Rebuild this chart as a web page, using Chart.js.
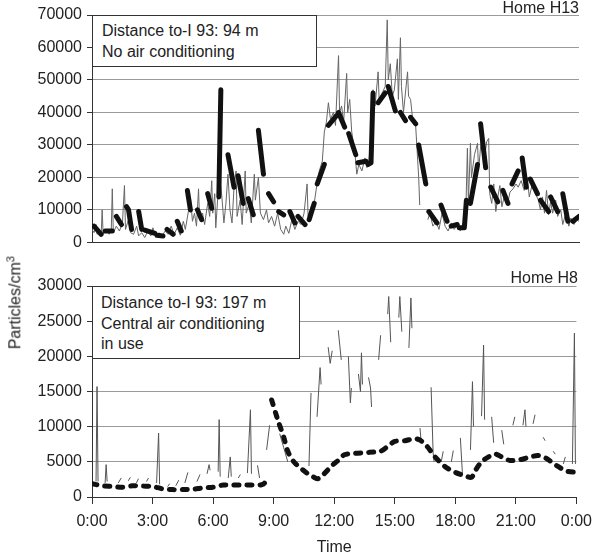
<!DOCTYPE html>
<html>
<head>
<meta charset="utf-8">
<script src="https://cdn.jsdelivr.net/npm/chart.js@4.4.1/dist/chart.umd.min.js"></script>
<style>
  body { margin: 0; background: #fff; font-family: "Liberation Sans", Arial, sans-serif; color: #222; }
  #wrap { position: relative; width: 600px; height: 556px; overflow: hidden; }
  .panel { position: absolute; left: 0; width: 600px; }
  .home { position: absolute; font-size: 16px; line-height: 16px; white-space: nowrap; }
  .note { position: absolute; background: #fff; border: 1px solid #333; font-size: 16px; line-height: 20.5px; box-sizing: border-box; white-space: nowrap; }
  #ytitle { position: absolute; left: -87px; top: 290px; width: 200px; text-align: center; font-size: 16px; line-height: 20px; transform: rotate(-90deg); }
</style>
</head>
<body>
<div id="wrap">
  <div class="panel" style="top:0;height:257px"><canvas id="topChart"></canvas></div>
  <div class="panel" style="top:257px;height:299px"><canvas id="bottomChart"></canvas></div>
  <div class="home" style="top:0px;right:21px">Home H13</div>
  <div class="home" style="top:270px;right:22px">Home H8</div>
  <div class="note" style="left:92px;top:15px;width:225px;height:52px;padding:5px 0 0 9px">Distance to-I 93: 94 m<br>No air conditioning</div>
  <div class="note" style="left:92px;top:286px;width:208px;height:73px;padding:6px 0 0 8px">Distance to-I 93: 197 m<br>Central air conditioning<br>in use</div>
  <div id="ytitle">Particles/cm<sup style="font-size:11px">3</sup></div>
</div>
<script>
// Home H13 - indoor (thick), segments separated by null
const h13InTime = [0.1, 0.45, 0.55, 0.65, 1.0, 1.1, 1.2, 1.45, 1.6, 1.7, 1.8, 1.95, 2.1, 2.3, 2.45, 2.55, 2.6, 3.1, 3.15,
  3.2, 3.5, 3.6, 3.7, 4.0, 4.1, 4.2, 4.4, 4.55, 4.7, 4.85, 5.0, 5.2, 5.4, 5.55, 5.7, 5.9, 6.05, 6.25, 6.35, 6.5,
  6.7, 7.0, 7.1, 7.2, 7.45, 7.6, 7.7, 7.95, 8.1, 8.2, 8.45, 8.6, 8.7, 8.95, 9.1, 9.2, 9.45, 9.6, 9.75, 10.0, 10.08,
  10.15, 10.5, 10.6, 10.7, 10.95, 11.02, 11.1, 11.45, 11.55, 11.65, 12.05, 12.1, 12.15, 12.45, 12.55, 12.65, 13.0, 13.05,
  13.1, 13.5, 13.55, 13.6, 13.75, 13.85, 14.0, 14.1, 14.45, 14.52, 14.6, 14.95, 15.1, 15.2, 15.45, 15.6, 15.7, 15.95, 16.02,
  16.1, 16.45, 16.52, 16.6, 17.0, 17.1, 17.2, 17.5, 17.6, 17.7, 18.0, 18.05, 18.1, 18.35, 18.45, 18.55, 18.65, 19.0, 19.08,
  19.15, 19.4, 19.52, 19.65, 20.0, 20.12, 20.25, 20.5, 20.6, 20.7, 21.0, 21.1, 21.2, 21.4, 21.5, 21.6, 21.95, 22.02,
  22.1, 22.5, 22.55, 22.6, 22.95, 23.08, 23.2, 23.45, 23.58, 23.7, 24.0];
const h13In = [5000, 2500, null, 3500, 3500, null, 8000, 5500, null, 11000, 10000, 4000, null, 9500, 4000, null, 3800, 2800, null,
  2200, 2000, null, 4000, 2500, null, 6500, 3500, null, 16000, 10000, null, 10000, 7000, null, 15000, 10500, null, 14000, 47000, null,
  27000, 17000, null, 20500, 12000, null, 13500, 8500, null, 34500, 21000, null, 15000, 12500, null, 9500, 8500, null, 9500, 6000, null,
  8000, 5500, null, 7000, 12000, null, 18000, 24000, null, 36000, 39000, null, 40000, 35500, null, 33500, 27000, null,
  24500, 25000, null, 24000, 24500, 46000, null, 43000, 46000, null, 48000, 40500, null, 40000, 37500, null, 38500, 36500, null,
  30000, 18000, null, 9500, 6000, null, 11500, 6500, null, 5000, 5500, null, 4500, 4500, 13000, null, 12000, 24000, null,
  36500, 23000, null, 17000, 12500, null, 16000, 12000, null, 18000, 22000, null, 26000, 17000, null, 19500, 15000, null,
  13000, 9500, null, 14000, 9500, null, 15000, 6500, null, 6500, 8000];

// Home H13 - outdoor (thin)
const h13OutTime = [0.0, 0.1, 0.2, 0.25, 0.35, 0.45, 0.5, 0.55, 0.7, 0.85, 0.95, 1.0, 1.05, 1.2, 1.35, 1.5, 1.6, 1.65, 1.8, 1.9,
  2.05, 2.2, 2.3, 2.45, 2.6, 2.75, 2.9, 3.0, 3.15, 3.3, 3.45, 3.6, 3.75, 3.9, 4.05, 4.2, 4.35, 4.5, 4.6, 4.75, 4.85, 4.95,
  5.05, 5.15, 5.25, 5.3, 5.45, 5.55, 5.7, 5.8, 5.9, 5.95, 6.05, 6.1, 6.2, 6.3, 6.4, 6.5, 6.6, 6.7, 6.8, 6.9, 7.0, 7.1, 7.15,
  7.3, 7.4, 7.55, 7.6, 7.75, 7.85, 8.0, 8.05, 8.2, 8.3, 8.45, 8.6, 8.7, 8.85, 9.0, 9.15, 9.3, 9.45, 9.55, 9.7, 9.85, 10.0,
  10.15, 10.3, 10.45, 10.6, 10.65, 10.8, 10.95, 11.1, 11.2, 11.35, 11.45, 11.55, 11.65, 11.75, 11.9, 12.0, 12.15, 12.2, 12.3,
  12.4, 12.55, 12.6, 12.7, 12.8, 12.95, 13.05, 13.15, 13.3, 13.45, 13.55, 13.65, 13.75, 13.85, 13.95, 14.1, 14.15, 14.3,
  14.45, 14.55, 14.6, 14.7, 14.8, 14.9, 15.05, 15.1, 15.2, 15.25, 15.35, 15.55, 15.6, 15.7, 15.8, 15.95, 16.1, 16.15, 16.3,
  16.55, 16.65, 16.8, 16.95, 17.1, 17.25, 17.4, 17.55, 17.7, 17.85, 18.0, 18.15, 18.3, 18.4, 18.5, 18.55, 18.65, 18.7, 18.85,
  19.0, 19.05, 19.2, 19.3, 19.45, 19.55, 19.6, 19.7, 19.8, 19.9, 20.0, 20.1, 20.2, 20.35, 20.5, 20.6, 20.75, 20.9, 21.0,
  21.15, 21.3, 21.45, 21.55, 21.7, 21.85, 22.0, 22.1, 22.2, 22.3, 22.4, 22.5, 22.6, 22.7, 22.85, 22.95, 23.1, 23.2, 23.35,
  23.5, 23.6, 23.75, 23.9, 24.0];
const h13Out = [4000, 3000, 5500, 2500, 3000, 2000, 10000, 2500, 3500, 2500, 4000, 16500, 3000, 5000, 3500, 6000, 17500, 4000, 7000, 3000,
  2500, 5000, 2000, 3000, 1500, 3500, 2000, 4500, 1500, 3000, 1800, 3500, 2500, 5000, 2500, 4500, 2200, 6500, 4000, 9500, 14000, 6500,
  9000, 5000, 16500, 7000, 9000, 5500, 12000, 8000, 19000, 9000, 15000, 4500, 14000, 20000, 14000, 6000, 12000, 21000, 10000, 6000, 17000, 22000, 8000,
  13000, 5500, 22000, 9000, 12000, 6000, 21000, 13000, 20000, 9000, 7000, 10000, 6000, 8000, 5000, 9000, 4000, 2500, 5000, 2800, 7000, 4000,
  6500, 5500, 9000, 18000, 8000, 11000, 12000, 18500, 22000, 25000, 34000, 37000, 43000, 38000, 40000, 36000, 57500, 40000, 42000,
  37000, 52000, 40000, 44000, 34000, 28000, 21000, 24000, 22000, 26000, 23000, 25000, 33000, 47000, 42000, 52500, 44000, 46000,
  48000, 68500, 50000, 55000, 45000, 47000, 56500, 44000, 63000, 48000, 40000, 52500, 45000, 44000, 38000, 36000, 20000, 11500, null,
  7000, 9000, 5000, 6500, 4000, 9000, 5000, 3500, 6000, 4000, 5500, 3500, 6000, 4000, 29000, 12000, 30500, 20000, 27000,
  30500, 22000, 33000, 24000, 31000, 32000, 15000, 12000, 18000, 9500, 14000, 17500, 11000, 15000, 12500, 15500, 16500, 18000, 17000,
  19000, 16000, 20000, 14000, 18000, 15000, 13000, 10000, 14000, 9000, 16000, 8500, 12500, 9000, 13000, 8000, 10000, 5500, 9000,
  5000, 7500, 5500, 7000, 6500];

// Home H8 - indoor (thick dashed)
const h8InTime = [0, 0.5, 1, 1.5, 2, 2.5, 3, 3.5, 4, 4.5, 5, 5.5, 6, 6.5, 7, 7.5, 8, 8.4, 8.55, 8.6, 8.75, 8.9, 9.2, 9.5, 9.7,
  10.0, 10.3, 10.7, 11.0, 11.2, 11.5, 11.9, 12.2, 12.5, 13, 13.5, 14, 14.3, 14.7, 15, 15.5, 16, 16.3, 16.6, 17, 17.5, 18,
  18.5, 18.8, 19.0, 19.3, 19.7, 20, 20.3, 20.7, 21.2, 21.6, 22.1, 22.5, 23, 23.5, 24];
const h8In = [1900, 1600, 1500, 1400, 1600, 1550, 1500, 1150, 1050, 1050, 1100, 1300, 1400, 1700, 1700, 1700, 1700, 1750, 2000, 2800, null, 13800, 11000, 8500, 6500,
  5000, 4200, 3300, 2800, 2600, 3300, 4500, 5200, 6000, 6200, 6300, 6400, 6500, 7300, 7900, 8000, 8300, 8000, 7200, 5700, 4300, 3500,
  3000, 2800, 3800, 5000, 5800, 6100, 5700, 5200, 5300, 5600, 5900, 5500, 4500, 3700, 3500];

// Home H8 - outdoor (thin), fragments separated by null
const h8OutTime = [0.2, 0.25, 0.3, 0.4, 0.65, 0.7, 0.75, 0.85, 1.3, 1.45, 1.55, 1.8, 1.9, 2.0, 2.2, 2.3, 2.4, 2.7, 2.8, 2.9,
  3.2, 3.3, 3.35, 3.45, 3.75, 3.85, 3.95, 4.15, 4.3, 4.4, 4.6, 4.75, 4.85, 5.2, 5.35, 5.45, 5.7, 5.8, 5.85, 5.95,
  6.25, 6.3, 6.35, 6.45, 6.75, 6.85, 6.9, 7.0, 7.25, 7.35, 7.45, 7.7, 7.85, 7.9, 8.0, 8.2, 8.3, 8.4, 8.65, 8.8, 8.9,
  9.3, 9.5, 9.7, 9.8, 10.75, 10.85, 10.95, 11.15, 11.3, 11.35, 11.45, 11.7, 11.8, 11.9, 12.0, 12.2, 12.35, 12.45,
  12.7, 12.8, 12.85, 12.95, 13.2, 13.3, 13.35, 13.4, 13.5, 13.7, 13.8, 13.85, 13.95, 14.2, 14.3, 14.4, 14.65, 14.7, 14.8, 14.9,
  15.2, 15.25, 15.35, 15.4, 15.7, 15.8, 15.85, 15.95, 16.25, 16.3, 16.4, 16.8, 16.9, 16.95, 17.05, 17.3, 17.4, 17.5,
  17.8, 17.9, 18.0, 18.25, 18.35, 18.45, 18.75, 18.85, 18.9, 19.0, 19.3, 19.4, 19.45, 19.55, 19.8, 19.9, 20.0,
  20.3, 20.4, 20.5, 20.85, 20.95, 21.05, 21.35, 21.45, 21.5, 21.6, 21.85, 21.95, 22.05, 22.35, 22.45, 22.55,
  22.85, 22.95, 23.05, 23.35, 23.45, 23.55, 23.8, 23.9, 23.95];
const h8Out = [2200, 15700, 2200, null, 2000, 4600, 2200, null, 2000, 2700, null, 2300, 2800, null, 2000, 2600, null, 2200, 2700, null,
  2000, 9100, 1800, null, 1500, 1900, null, 1600, 2400, null, 2000, 3500, null, 2200, 3200, null, 3300, 4600, 3800, null,
  3600, 11000, 2900, null, 2700, 5700, 2900, null, 2700, 3200, null, 3400, 12400, 3300, null, 4500, 2700, null, 6700, 10200, null,
  9000, 7000, 5000, null, 4400, 14800, null, 11400, 18400, 16000, null, 21300, 19000, 20800, null, 23700, 19500, null,
  20000, 13400, 15500, null, 17500, 15000, 20500, 16000, null, 17000, 15500, 12800, null, 19500, 23000, null, 26000, 28500, 22000, null,
  25500, 28500, 23500, null, 21200, 28300, 24000, null, 9800, 8100, null, 15600, 6300, 5000, null, 5000, 6500, null,
  5000, 6600, null, 8400, 3400, null, 6700, 16400, 10000, null, 11500, 21600, 11000, null, 11400, 7700, null,
  9500, 7500, null, 10200, 11400, null, 10200, 12400, 10000, null, 10400, 11700, null, 8500, 8000, null,
  6500, 6100, null, 4700, 5700, null, 4700, 23300, 4700];

const hourTicks = [0, 3, 6, 9, 12, 15, 18, 21, 24];

const fontFamily = '"Liberation Sans", Arial, sans-serif';
const gridGray = '#9a9a9a';
const axisDark = '#333';

function points(times, values) {
    return times.map((t, i) => ({ x: t, y: values[i] }));
}

function yAxis(max, step) {
    return {
        min: 0,
        max: max,
        afterFit: function (axis) { axis.width = 92; },
        ticks: {
            stepSize: step,
            padding: 5,
            color: '#222',
            font: { family: fontFamily, size: 16 },
            callback: v => String(v)
        },
        grid: { color: gridGray, lineWidth: 1, tickLength: 5, tickColor: axisDark },
        border: { color: axisDark, width: 1 }
    };
}

Chart.defaults.animation = false;
Chart.defaults.font.family = fontFamily;

new Chart(document.getElementById('topChart'), {
    type: 'line',
    data: {
        datasets: [{
            label: 'Indoor',
            data: points(h13InTime, h13In),
            borderColor: '#111',
            borderWidth: 5,
            borderCapStyle: 'round',
            borderJoinStyle: 'round',
            pointRadius: 0,
            spanGaps: false
        }, {
            label: 'Outdoor',
            data: points(h13OutTime, h13Out),
            borderColor: '#666',
            borderWidth: 1,
            pointRadius: 0,
            spanGaps: false
        }]
    },
    options: {
        responsive: true,
        maintainAspectRatio: false,
        layout: { padding: { top: 15, right: 21, bottom: 0, left: 0 } },
        plugins: { legend: { display: false }, tooltip: { enabled: false } },
        scales: {
            x: {
                type: 'linear',
                min: 0,
                max: 24,
                afterFit: function (axis) { axis.height = 0; },
                ticks: { display: false },
                grid: { display: false },
                border: { color: axisDark, width: 1 }
            },
            y: yAxis(70000, 10000)
        }
    }
});

new Chart(document.getElementById('bottomChart'), {
    type: 'line',
    data: {
        datasets: [{
            label: 'Indoor',
            data: points(h8InTime, h8In),
            borderColor: '#111',
            borderWidth: 5,
            borderDash: [5, 8],
            borderCapStyle: 'round',
            pointRadius: 0,
            tension: 0.3,
            spanGaps: false
        }, {
            label: 'Outdoor',
            data: points(h8OutTime, h8Out),
            borderColor: '#555',
            borderWidth: 1,
            pointRadius: 0,
            spanGaps: false
        }]
    },
    options: {
        responsive: true,
        maintainAspectRatio: false,
        layout: { padding: { top: 29, right: 17, bottom: 0, left: 0 } },
        plugins: { legend: { display: false }, tooltip: { enabled: false } },
        scales: {
            x: {
                type: 'linear',
                min: 0,
                max: 24,
                afterBuildTicks: function (axis) { axis.ticks = hourTicks.map(v => ({ value: v })); },
                afterFit: function (axis) { axis.height = 59; },
                ticks: {
                    padding: 8,
                    maxRotation: 0,
                    autoSkip: false,
                    color: '#222',
                    font: { family: fontFamily, size: 16 },
                    callback: v => (v % 24) + ':00'
                },
                grid: { display: true, drawOnChartArea: false, tickLength: 7, tickColor: axisDark },
                border: { color: axisDark, width: 1 },
                title: {
                    display: true,
                    text: 'Time',
                    color: '#222',
                    font: { family: fontFamily, size: 16, lineHeight: 1 },
                    padding: 0
                }
            },
            y: yAxis(30000, 5000)
        }
    }
});
</script>
</body>
</html>
